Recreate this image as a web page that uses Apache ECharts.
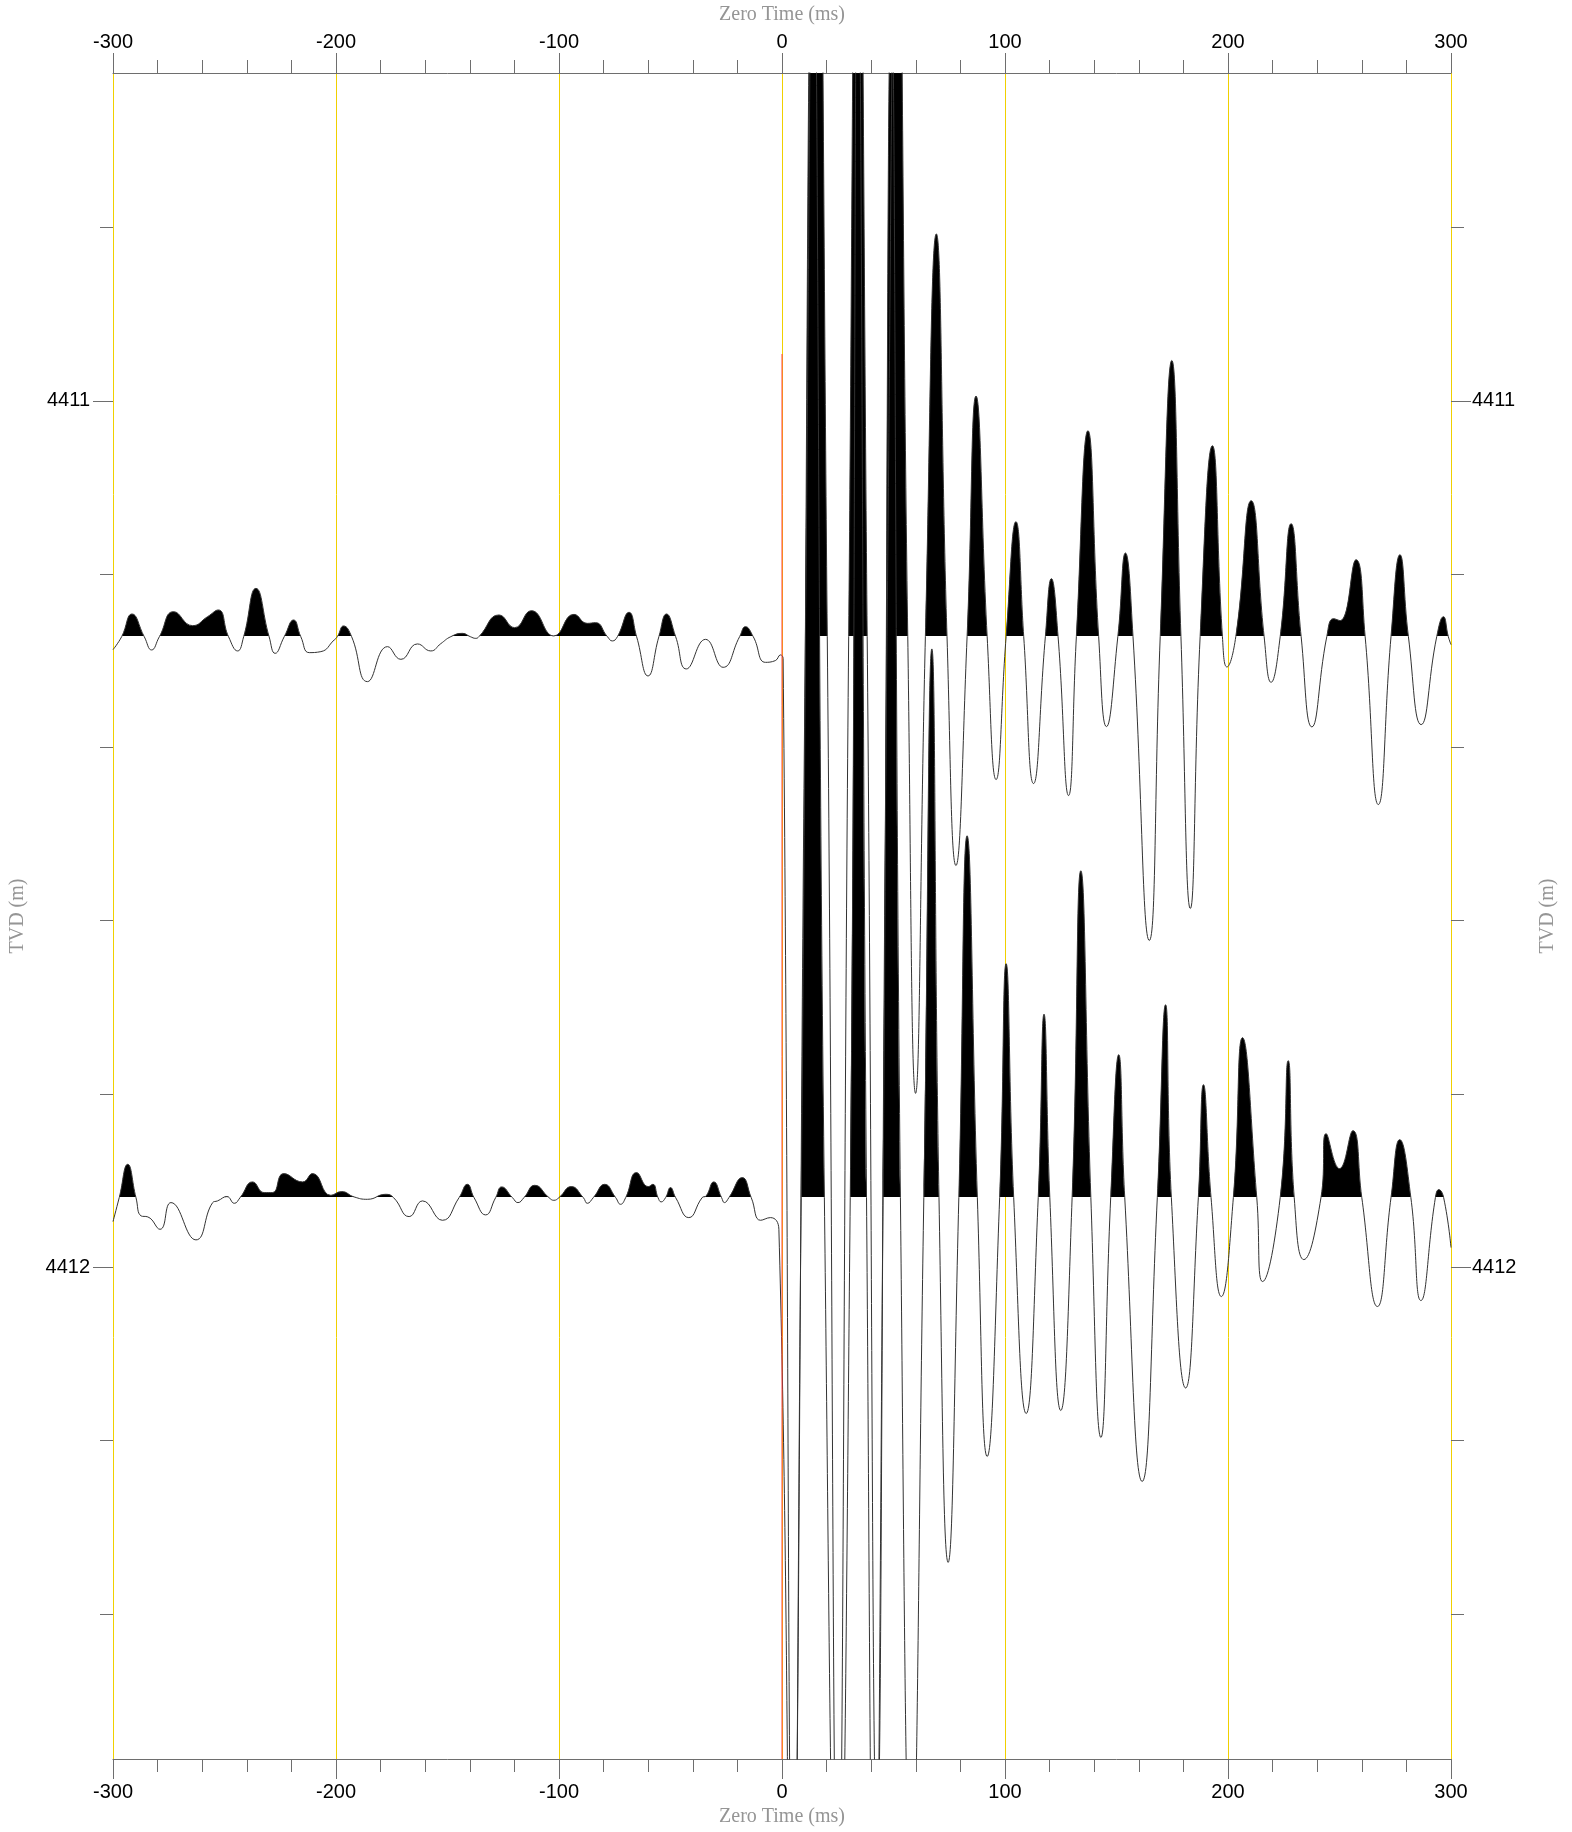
<!DOCTYPE html>
<html><head><meta charset="utf-8">
<script src="https://cdn.jsdelivr.net/npm/echarts@6/dist/echarts.min.js"></script>
<style>html,body{margin:0;padding:0;background:#fff}#chart{width:1572px;height:1832px}</style>
</head><body><div id="chart"></div>
<script>
// ---- axis data ----
const timeMin = -300, timeMax = 300, timeStep = 100;
const depthMin = 4410.6217, depthMax = 4412.5675;
const depthLabels = [4411, 4412];
const depthMinorTicks = [4410.8, 4411.2, 4411.4, 4411.6, 4411.8, 4412.2, 4412.4];
const zeroMarkerTop = 4410.946;

// ---- traces (time ms, amplitude units) ----
const trace1Depth = 4411.2722;
const trace2Depth = 4411.9196;
const ampGain = 1 / 867; // metres of display per amplitude unit

const trace1Time = [-300,-296.1,-291.5,-286.0,-282.7,-279.2,-272.8,-264.3,-257.6,-252.8,-248.2,-244.1,-241.4,-235.9,-230.0,-227.3,-223.2,-219.0,-215.8,-212.0,-206.8,-200.8,-199.4,-196.6,-193.0,-185.9,-176.9,-170.9,-163.5,-157.5,-153,-148.5,-143.3,-139.8,-137.3,-135.9,-126.9,-119.9,-112.4,-102.3,-93.3,-87.3,-83.6,-78.3,-76.1,-73.8,-68.6,-65.2,-60.1,-55.2,-51.8,-47.7,-42.9,-34.3,-26.4,-19.0,-16.4,-12.9,-7.4,-3.0,-0.7,0.5,5,10.5,15.4,20.3,25.1,29.9,34,38.2,42.6,47.1,51.7,56.4,59.9,64.3,69.2,74.0,78.0,83.0,87.0,92.0,96.0,100.5,104.9,108.4,112.8,118.1,120.8,123.8,128.5,132.0,137.2,142.0,145.5,150.6,154.0,157.4,164.7,169.6,174.8,178.9,183.1,187.5,193.0,197.5,199.5,203.5,210.4,216.2,219.3,223.4,228.3,232.8,237.6,244.3,247.3,250.3,257.4,261.5,267.4,273.1,277.1,280.9,286.6,293.6,296.6,298.8,300];
const trace1Amp = [-13,0,22.7,0,-13.3,0,25,11,20,26.7,0,-14.3,0,48.3,0,-16.7,0,16.7,0,-16,-15,-3.3,0,10.7,0,-45,-10,-22.7,-7.3,-14.3,-7,0,3.3,0,-1.7,0,21.7,9,26,0.7,22.3,13.3,14,0,-4.3,0,24.3,0,-39.3,0,22.7,0,-32.3,-2.7,-30.7,0,10,0,-25.7,-24,-18.3,-22,-1300,0,1000,0,-1300,0,900,0,-1200,0,800,0,-457,0,403,0,-229,0,240.7,0,-143,0,115,0,-147,0,58,0,-159,0,206,0,-90,0,83.7,0,-304,0,276.3,0,-272,0,191,0,-30.3,0,136,0,-45.7,0,113,0,-90.3,0,18,16,77,0,-168,0,82,0,-88,0,20,0,-8];

const trace2Time = [-300,-297.2,-293.4,-289.7,-287.4,-284.4,-278.9,-274.0,-262.8,-255.3,-253.1,-248.9,-245.6,-243.0,-237.4,-232.2,-228.5,-223.5,-215.0,-210.5,-202.3,-197.5,-191.9,-185.9,-177.7,-174.2,-167.2,-161.2,-152.3,-144.8,-141.1,-138.1,-132.9,-128.4,-125.7,-120.9,-118.4,-115.7,-110.9,-104.5,-102.3,-100.0,-94.5,-89.1,-87.3,-84.6,-79.5,-74.6,-72.4,-70.1,-65.2,-60.0,-57.9,-55.6,-54.2,-52.2,-50.0,-47.7,-41.8,-35.8,-34.0,-30.6,-27.1,-25.8,-23.8,-17.8,-13.8,-9.6,-5.2,-1.4,4.5,8.6,13.8,19.0,25,30.6,34,37.9,41.5,45.3,49,53.1,58,63.6,67.2,70.4,74.5,79.3,83,87.6,92,97.6,100.5,103.9,109.5,114.9,117.5,120.1,125,130.1,134,138.5,143,147.4,151,153.7,161.5,168.3,172,174.6,181,186.7,189,192.4,197,202.4,206.5,212.9,215.5,223.4,227,229.7,234,241.7,244,250,256,260,267,273.1,277,282,286.5,293,294.5,296.7,300];
const trace2Amp = [-24,0,33.3,0,-18.3,-19.3,-31.7,-5,-42.3,-5,-3.3,1,-5.7,0,15.7,5,5,24,15.7,24,2.3,6,0.7,-1.7,3.3,0,-19,-3.3,-22.7,0,13.3,0,-17.3,0,10.7,0,-5,0,12.3,0,-2.7,0,11,0,-5.7,0,13.3,0,-6.7,0,25,11,13.3,0,-4.3,0,10,0,-20,0,1.7,15.7,0,-5,0,20,0,-22.7,-20,-31.7,-800,0,1300,0,-800,0,1250,0,-800,0,1200,0,-700,0,549,0,-365,0,362,0,-259,0,234,0,-216,0,183.5,0,-213,0,327,0,-240,0,143,0,-284,0,193,0,-190.5,0,113,0,-99,0,160,0,-84,0,137,0,-62,0,64,29,67,0,-109,0,58,0,-103,0,8,0,-50];

function toPoints(times, amps, base) {
  return times.map((t, i) => [t, base - amps[i] * ampGain]);
}
const pts1 = toPoints(trace1Time, trace1Amp, trace1Depth);
const pts2 = toPoints(trace2Time, trace2Amp, trace2Depth);

const axisGray = '#6e6e6e';
const gridYellow = '#f0d000';
const labelFont = { color: '#000', fontSize: 20, fontFamily: 'Liberation Sans, Arial, sans-serif' };
const nameFont = { color: '#959595', fontSize: 20, fontFamily: 'Liberation Serif, Times New Roman, serif' };

function xAx(pos, withGrid, margin) {
  return {
    type: 'value', position: pos, min: timeMin, max: timeMax, interval: timeStep,
    name: 'Zero Time (ms)', nameLocation: 'middle', nameGap: 48, nameTextStyle: nameFont,
    axisLine: { show: true, onZero: false, lineStyle: { color: axisGray, width: 1 } },
    axisTick: { show: true, length: 20, lineStyle: { color: axisGray } },
    minorTick: { show: true, splitNumber: 5, length: 13, lineStyle: { color: axisGray } },
    axisLabel: Object.assign({ margin: margin, formatter: v => String(v) }, labelFont),
    splitLine: { show: withGrid, lineStyle: { color: gridYellow, width: 1 } },
    minorSplitLine: { show: false }
  };
}
function yAx(pos, major, showName) {
  return {
    type: 'value', position: pos, inverse: true, min: depthMin, max: depthMax,
    name: showName ? 'TVD (m)' : '', nameLocation: 'middle', nameRotate: 90,
    nameGap: pos === 'left' ? 85 : 87, nameTextStyle: nameFont,
    axisLine: { show: false, onZero: false },
    axisTick: { show: true, length: major ? 20 : 13, customValues: major ? depthLabels : depthMinorTicks, lineStyle: { color: axisGray } },
    axisLabel: Object.assign({ show: major, margin: pos === 'left' ? 23 : 21, customValues: depthLabels, formatter: v => String(v) }, labelFont),
    splitLine: { show: false }
  };
}

// black above the trace baseline, transparent below (edge nudged ~1px up to avoid a grey seam)
function fillPieces(base) {
  const edge = base - 0.9 * ampGain;
  return [
    { min: depthMin - 10, max: edge, color: '#000' },
    { min: edge, max: depthMax + 10, color: 'rgba(255,255,255,0)' }
  ];
}

const chart = echarts.init(document.getElementById('chart'), null, { renderer: 'canvas' });
chart.setOption({
  animation: false,
  backgroundColor: '#fff',
  grid: { left: 112, right: 121, top: 73, bottom: 72, containLabel: false },
  xAxis: [xAx('bottom', true, 23), xAx('top', false, 21)],
  yAxis: [yAx('left', true, true), yAx('right', true, true), yAx('left', false, false), yAx('right', false, false)],
  visualMap: [
    { type: 'piecewise', show: false, seriesIndex: 0, dimension: 1, pieces: fillPieces(trace1Depth) },
    { type: 'piecewise', show: false, seriesIndex: 1, dimension: 1, pieces: fillPieces(trace2Depth) }
  ],
  series: [
    { type: 'line', data: pts1, smooth: 0.5, showSymbol: false, silent: true, z: 2,
      lineStyle: { opacity: 0, width: 0 }, areaStyle: { origin: trace1Depth, opacity: 1 } },
    { type: 'line', data: pts2, smooth: 0.5, showSymbol: false, silent: true, z: 2,
      lineStyle: { opacity: 0, width: 0 }, areaStyle: { origin: trace2Depth, opacity: 1 } },
    { type: 'line', data: pts1, smooth: 0.5, showSymbol: false, silent: true, z: 3,
      lineStyle: { color: '#333', width: 1 }, itemStyle: { color: '#333' } },
    { type: 'line', data: pts2, smooth: 0.5, showSymbol: false, silent: true, z: 3,
      lineStyle: { color: '#333', width: 1 }, itemStyle: { color: '#333' } },
    { type: 'line', data: [[0, zeroMarkerTop], [0, depthMax]], showSymbol: false, silent: true, z: 4,
      lineStyle: { color: '#ff4040', width: 1 }, itemStyle: { color: '#ff4040' } }
  ]
});
</script></body></html>
